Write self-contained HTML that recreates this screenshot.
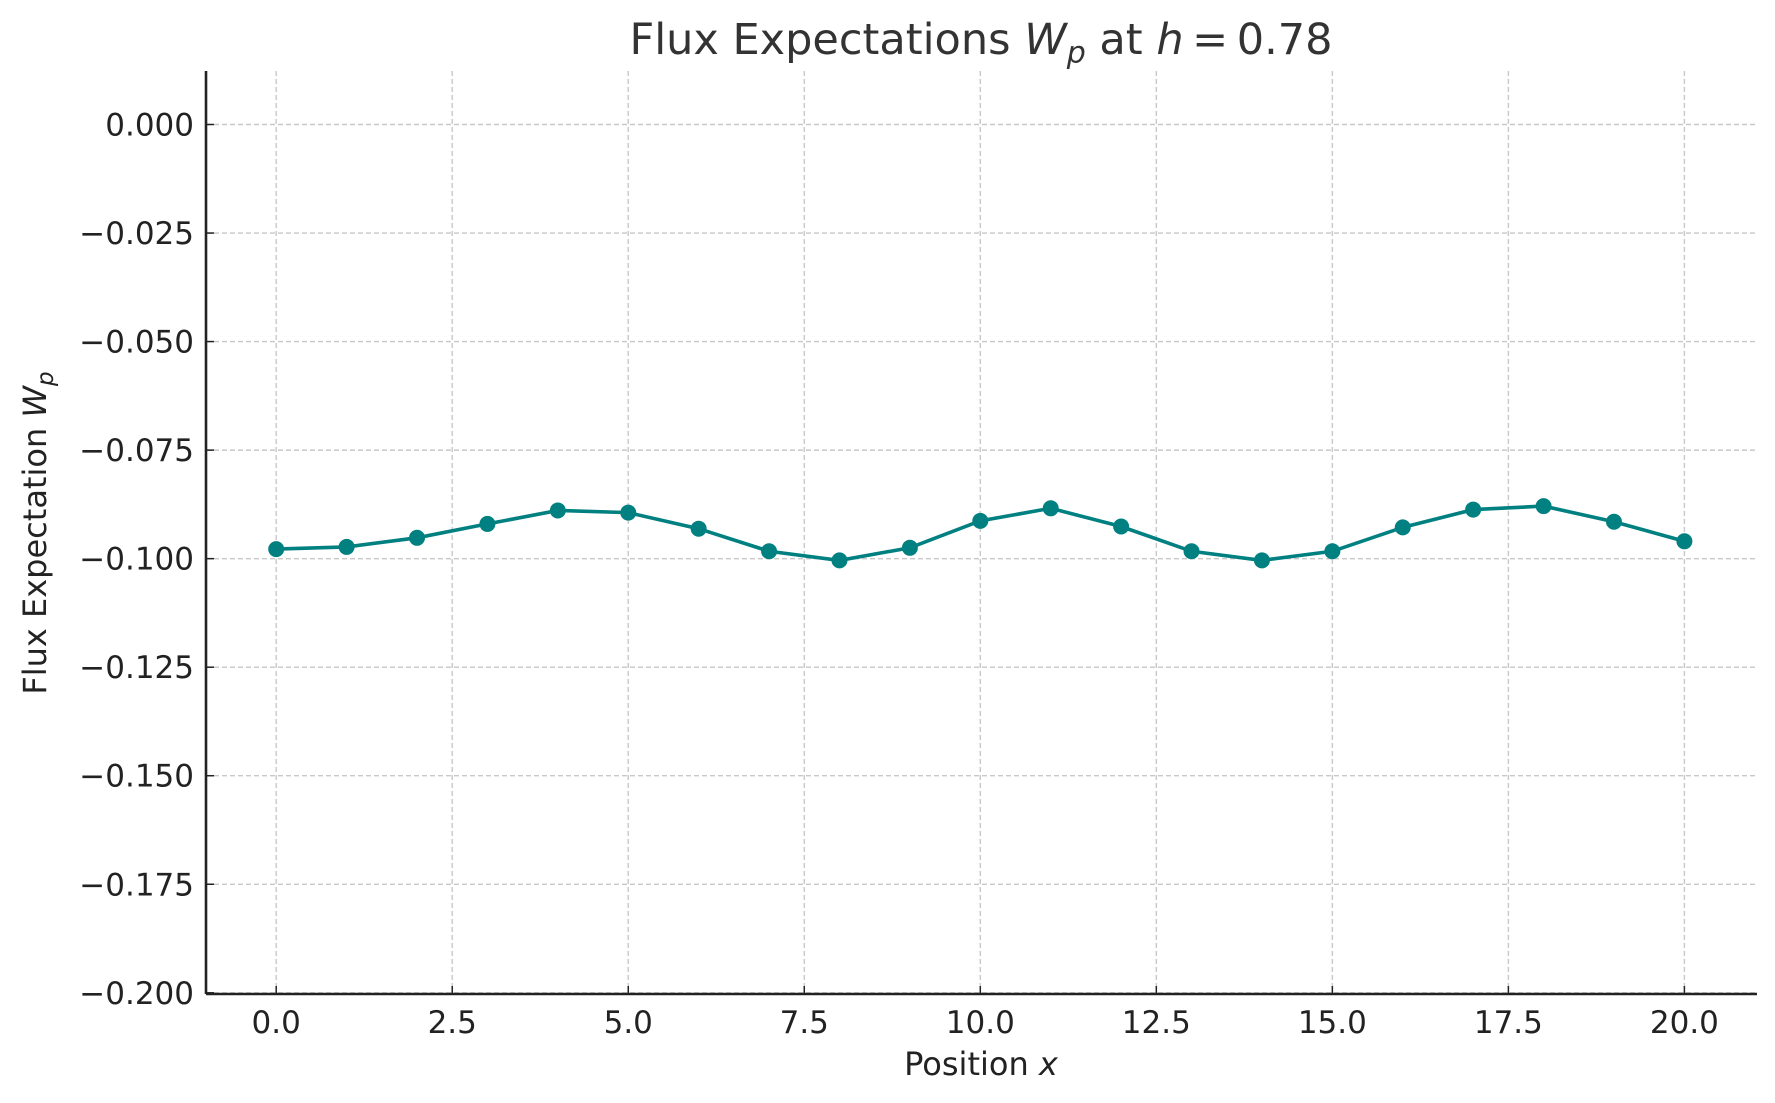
<!DOCTYPE html>
<html><head><meta charset="utf-8"><style>
html,body{margin:0;padding:0;background:#fff;}
svg{display:block;font-family:"DejaVu Sans","Liberation Sans",sans-serif;}
</style></head><body>
<svg id="chart" width="1775" height="1103" viewBox="0 0 1775 1103">
<text x="981" y="54" text-anchor="middle" font-size="43" fill="#333">Flux Expectations <tspan font-style="italic">W</tspan><tspan font-style="italic" font-size="30" dy="9">p</tspan><tspan dy="-9"> at </tspan><tspan font-style="italic">h</tspan>&#8201;=&#8201;0.78</text>
<g id="grid"></g>
<g id="axes"></g>
<g id="series"></g>
<text x="981" y="1075" text-anchor="middle" font-size="32" fill="#222">Position <tspan font-style="italic">x</tspan></text>
<text transform="translate(46,533) rotate(-90)" text-anchor="middle" font-size="32" fill="#222">Flux Expectation <tspan font-style="italic">W</tspan><tspan font-style="italic" font-size="23" dy="7">p</tspan></text>
</svg>
<script>
const positions=[0,1,2,3,4,5,6,7,8,9,10,11,12,13,14,15,16,17,18,19,20];
const fluxValues=[-0.0978,-0.0973,-0.0952,-0.0920,-0.0889,-0.0894,-0.0931,-0.0983,-0.1004,-0.0975,-0.0913,-0.0884,-0.0926,-0.0983,-0.1004,-0.0983,-0.0928,-0.0887,-0.0879,-0.0915,-0.0960];
const xTicks=[0,2.5,5,7.5,10,12.5,15,17.5,20];
const xTickLabels=["0.0","2.5","5.0","7.5","10.0","12.5","15.0","17.5","20.0"];
const yTicks=[0,-0.025,-0.05,-0.075,-0.1,-0.125,-0.15,-0.175,-0.2];
const yTickLabels=["0.000","\u22120.025","\u22120.050","\u22120.075","\u22120.100","\u22120.125","\u22120.150","\u22120.175","\u22120.200"];

const NS="http://www.w3.org/2000/svg";
const L=206,R=1757,T=71,B=994;
function sx(v){return 276.2+(v-0)*(1684.4-276.2)/20;}
function sy(v){return 124.5+(v-0)*(992.8-124.5)/(-0.2);}
function mk(tag,attrs,parent){const e=document.createElementNS(NS,tag);for(const k in attrs)e.setAttribute(k,attrs[k]);parent.appendChild(e);return e;}
const grid=document.getElementById('grid'),axes=document.getElementById('axes'),series=document.getElementById('series');

xTicks.forEach((t,i)=>{
  const x=sx(t);
  const g=mk('line',{x1:x,x2:x,y1:T,y2:B,stroke:'#c8c8c8','stroke-width':1.4,'stroke-dasharray':'5,3'},grid);
  
  
  const tk=mk('line',{x1:x,x2:x,y1:B,y2:B-8,stroke:'#222','stroke-width':1.5},axes);
  
  
  const tx=mk('text',{x:x,y:B+39,'text-anchor':'middle','font-size':31,fill:'#222'},axes);
  tx.textContent=xTickLabels[i];
  
  
});
yTicks.forEach((t,i)=>{
  const y=sy(t);
  const g=mk('line',{x1:L,x2:R,y1:y,y2:y,stroke:'#c8c8c8','stroke-width':1.4,'stroke-dasharray':'5,3'},grid);
  
  
  const tk=mk('line',{x1:L,x2:L+8,y1:y,y2:y,stroke:'#222','stroke-width':1.5},axes);
  
  
  const tx=mk('text',{x:L-12,y:y+11,'text-anchor':'end','font-size':31,fill:'#222'},axes);
  tx.textContent=yTickLabels[i];
  
  
});
const ya=mk('line',{x1:L,x2:L,y1:T,y2:B,stroke:'#222','stroke-width':2.6},axes);


const xa=mk('line',{x1:L,x2:R,y1:B,y2:B,stroke:'#222','stroke-width':2.6},axes);



const pts=positions.map((p,i)=>sx(p)+','+sy(fluxValues[i])).join(' ');
const pl=mk('polyline',{points:pts,fill:'none',stroke:'#008080','stroke-width':3.6},series);


positions.forEach((p,i)=>{
  const c=mk('circle',{cx:sx(p),cy:sy(fluxValues[i]),r:8,fill:'#008080'},series);
  
  
});
</script>
</body></html>
